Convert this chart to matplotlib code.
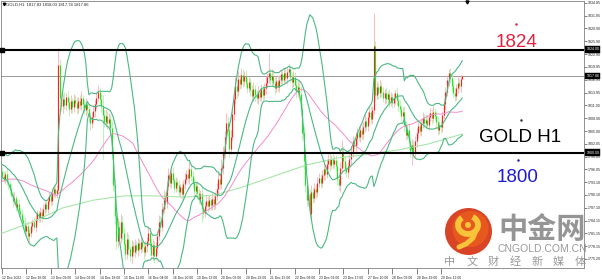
import numpy as np
import matplotlib
matplotlib.use("Agg")
import matplotlib.pyplot as plt
import matplotlib.transforms as mtransforms
from matplotlib.patches import Circle, Arc

W, H = 602, 280

# ---------------- data ----------------
prior_close = [
    1786.2, 1787.5, 1785.9, 1788.1, 1789.4, 1787.8, 1788.9, 1790.3, 1789.1, 1788.4,
    1789.7, 1791.0, 1790.2, 1789.5, 1788.8, 1790.6, 1791.8, 1790.9, 1789.7, 1790.5,
    1791.2, 1790.4, 1791.9, 1792.7, 1791.6, 1793.0, 1792.2, 1794.1, 1793.3, 1792.5,
    1795.8, 1799.6, 1797.4, 1801.2, 1798.9, 1796.8, 1798.3, 1797.1, 1795.6, 1796.9,
    1798.0, 1797.2, 1796.5, 1797.8, 1796.7, 1797.5, 1796.1, 1797.0, 1796.3, 1795.8]
first_open = 1795.8

close = [
    1794.5, 1793.8, 1795.0, 1793.2, 1792.6, 1791.4,
    1790.2, 1788.7, 1789.5, 1787.4, 1788.1, 1786.3, 1785.6,
    1784.2, 1783.5, 1781.8, 1782.9, 1780.6, 1781.3,
    1782.8, 1783.9, 1782.7, 1784.6, 1785.9, 1784.8, 1786.2, 1785.1, 1786.8, 1787.9,
    1786.9, 1788.6, 1789.8, 1788.7, 1790.5, 1791.6, 1790.4, 1791.3,
    1820.5, 1812.6,
    1810.8, 1812.4, 1811.1, 1813.0, 1811.7, 1810.2, 1811.9, 1810.6, 1812.3, 1811.5,
    1810.4, 1812.1, 1811.0, 1812.6, 1811.2, 1809.9, 1811.4, 1810.1, 1808.4, 1806.9,
    1808.2, 1809.6, 1811.3, 1812.8, 1814.0, 1812.5, 1810.9, 1808.7,
    1807.2, 1808.6, 1806.9, 1807.8, 1805.6,
    1800.2, 1792.5, 1785.1, 1779.4, 1782.6,
    1780.1, 1783.9, 1781.2, 1778.6, 1776.3, 1779.8, 1777.4, 1775.8, 1778.2, 1776.9,
    1778.5, 1777.3, 1778.9, 1777.6, 1779.2, 1778.0, 1776.8, 1778.1, 1779.4,
    1781.3, 1779.0, 1776.2, 1778.4, 1775.9, 1777.8,
    1780.6, 1783.9, 1782.7, 1786.8, 1789.5, 1788.2, 1792.1, 1794.8, 1793.0,
    1795.2, 1793.6, 1791.8, 1793.1, 1792.4, 1790.7, 1791.9, 1790.3, 1792.6, 1793.8,
    1795.1, 1794.0, 1796.2, 1794.5, 1792.8, 1791.1, 1792.3, 1790.6, 1789.2, 1790.4,
    1787.1, 1785.9, 1787.6, 1788.8, 1787.5, 1788.9, 1787.7, 1789.1, 1788.0,
    1789.8, 1791.5, 1793.9, 1792.6, 1796.4, 1799.8, 1803.5, 1806.9, 1805.2, 1800.8,
    1803.6, 1808.9, 1812.4, 1815.6, 1814.3, 1817.2, 1816.0, 1818.1, 1816.7, 1817.9, 1816.3,
    1815.1, 1816.4, 1814.6, 1813.2, 1814.9, 1813.5, 1812.6, 1814.1, 1813.0, 1814.7,
    1813.4, 1815.0, 1816.3, 1817.5, 1818.6, 1816.8, 1817.9, 1816.2, 1815.1, 1816.6,
    1815.3, 1816.9, 1818.2, 1817.0, 1818.5, 1817.3, 1818.8, 1819.4, 1817.6, 1816.4,
    1817.5, 1815.8, 1814.2, 1815.3, 1813.6,
    1810.2, 1804.5, 1798.1, 1792.4, 1789.0, 1790.3, 1785.6, 1790.8,
    1789.4, 1791.6, 1790.8, 1792.9, 1794.1, 1793.0, 1794.8, 1796.2, 1795.0, 1797.3,
    1798.5, 1797.1, 1798.6, 1797.4, 1798.2, 1796.9, 1793.8, 1792.4, 1796.3, 1800.1,
    1798.0, 1796.2, 1795.4, 1796.8,
    1798.5, 1800.2, 1802.6, 1801.5, 1803.4, 1804.8, 1803.6, 1805.3, 1804.2, 1806.0,
    1807.4, 1806.1, 1808.2, 1809.5, 1807.9, 1809.8,
    1824.8, 1813.5,
    1815.2, 1813.8, 1815.6, 1814.1, 1812.7, 1813.9, 1812.4, 1813.6, 1811.8, 1812.9,
    1811.5, 1812.7, 1813.8, 1812.2, 1810.9,
    1810.2, 1808.6, 1809.4, 1806.3, 1804.1, 1805.2, 1802.4, 1800.3, 1801.8, 1799.9, 1802.6,
    1804.5, 1806.2, 1805.0, 1806.8, 1808.1, 1806.9, 1807.6, 1806.4, 1808.3, 1809.2,
    1808.0, 1809.5, 1808.6, 1807.1, 1805.3, 1806.4, 1805.9, 1808.7, 1811.4,
    1814.2, 1816.8, 1818.6, 1817.4, 1815.6, 1813.9, 1813.2, 1815.0, 1816.3, 1815.4,
    1817.2, 1817.86]

upper_wick = [
    0.8,1.2,0.6,1.4,0.9,0.7,1.1,0.8,1.3,0.6,0.9,1.0,0.7,1.2,0.8,1.5,0.6,1.1,0.9,1.3,
    0.7,1.0,1.4,0.8,0.6,1.2,0.9,1.1,0.7,1.3,0.8,1.0,0.6,1.2,0.9,0.7,1.1,3.8,1.3,1.6,
    1.2,1.8,0.9,1.4,1.1,1.6,0.8,1.3,1.0,1.5,0.9,1.2,1.7,0.8,1.1,1.4,0.9,1.3,1.0,1.2,
    1.5,0.9,1.3,1.8,1.1,1.4,2.5,1.2,1.6,1.0,1.3,1.1,1.8,1.4,1.6,1.9,2.1,1.5,1.8,1.2,
    1.4,1.0,1.6,1.2,0.9,1.5,1.1,1.3,0.8,1.2,1.0,1.4,0.9,1.1,1.3,0.8,1.5,1.2,0.9,1.4,
    1.0,1.3,1.1,1.6,1.2,1.5,1.8,1.3,1.4,1.7,1.2,1.0,1.4,0.8,1.1,0.9,1.3,0.7,1.2,1.0,
    1.4,0.9,1.2,1.5,0.8,1.1,1.3,0.9,1.0,1.2,0.8,1.5,1.1,0.9,1.3,1.0,1.2,0.8,1.4,1.1,
    1.0,1.3,1.6,1.2,2.1,1.8,1.5,2.2,1.4,1.9,1.6,1.7,1.3,2.0,1.5,1.8,1.2,1.6,1.3,1.1,
    1.4,1.0,1.3,0.9,1.2,1.5,0.8,1.1,1.4,0.9,1.2,1.0,1.3,1.6,1.1,4.6,1.2,1.5,1.0,1.3,
    0.9,1.4,1.1,1.3,0.8,1.2,1.5,1.0,1.3,1.1,0.9,1.4,1.2,1.0,1.3,1.5,1.8,1.4,1.6,1.9,
    1.5,1.7,1.3,1.6,1.2,1.4,1.0,1.3,1.1,0.9,1.2,1.4,1.0,1.3,1.1,1.5,0.9,1.2,1.0,1.3,
    1.1,1.4,1.6,2.9,1.3,1.0,1.2,0.9,1.1,1.4,1.2,1.0,1.3,0.9,1.2,1.1,1.4,1.0,1.3,0.9,
    1.2,1.0,1.4,1.1,7.8,1.2,1.5,1.1,1.3,0.9,1.2,1.0,1.4,0.8,1.1,1.3,0.9,1.2,1.0,1.4,
    1.1,1.3,0.9,1.2,1.5,1.0,1.3,1.6,1.2,1.4,1.0,1.3,1.1,0.9,1.2,1.0,1.4,0.8,1.1,1.3,
    0.9,1.2,1.0,1.4,0.8,1.1,1.3,0.9,1.2,1.0,1.4,1.1,1.3,0.9,1.2,1.0,1.4,1.1,0.9,1.2,
    1.0,0.8,0.2]

lower_wick = [
    0.9,0.7,1.1,0.8,1.2,0.9,0.6,1.3,0.8,1.0,0.7,1.4,0.9,1.1,0.8,1.2,0.7,1.0,1.5,0.9,
    1.1,0.8,1.2,0.7,1.0,0.9,1.3,0.6,1.1,0.8,1.0,0.7,1.2,0.9,0.8,1.1,0.9,0.5,1.4,1.2,
    1.5,1.0,1.3,1.1,1.6,0.9,1.4,1.2,1.0,1.5,1.3,0.9,1.2,1.6,1.0,1.4,1.1,1.3,1.7,1.2,
    1.0,1.4,1.1,0.9,1.3,1.5,10.2,1.2,1.0,1.4,1.1,1.6,1.8,1.5,1.7,1.9,1.4,1.6,1.3,1.5,
    1.2,1.4,1.0,1.3,1.1,1.5,0.9,1.2,1.0,1.4,0.8,1.1,1.3,1.6,1.0,1.2,0.9,1.4,1.1,1.3,
    1.6,1.0,1.2,0.9,1.3,1.1,1.0,1.4,1.2,0.8,1.1,1.3,0.9,1.2,1.0,1.4,0.8,1.1,1.3,0.9,
    1.2,1.0,0.8,1.3,1.1,0.9,1.2,1.4,1.0,1.3,1.1,3.3,1.2,0.9,1.1,1.3,0.8,1.2,1.0,1.4,
    1.1,0.9,1.3,1.0,1.2,1.4,1.1,1.5,1.3,1.8,1.2,1.0,1.4,1.1,1.6,1.2,1.3,1.0,1.4,1.2,
    1.0,1.3,1.1,1.4,0.9,1.2,1.5,1.0,1.3,1.1,0.9,1.2,1.0,1.4,1.1,1.3,0.8,1.2,1.0,1.4,
    1.1,0.9,1.3,1.0,1.2,0.8,1.1,1.3,1.0,1.2,1.4,1.1,1.3,1.6,1.2,1.5,1.8,1.6,1.9,1.7,
    1.5,1.4,1.0,1.3,1.2,1.0,1.4,1.1,0.9,1.3,1.0,1.2,1.4,0.9,1.1,1.3,1.0,1.2,0.9,1.1,
    1.3,1.2,1.5,1.0,1.3,1.2,1.0,1.4,0.9,1.1,1.3,1.0,1.2,1.4,0.9,1.1,1.3,1.0,1.2,0.8,
    1.1,1.3,1.0,1.2,0.9,1.4,1.1,1.3,1.0,1.2,0.9,1.4,1.1,1.0,1.3,0.9,1.2,1.0,1.4,1.1,
    1.2,1.0,1.3,1.1,1.4,1.2,1.0,1.5,1.3,3.3,1.2,1.0,1.3,1.1,0.9,1.2,1.0,1.3,1.1,0.9,
    1.2,1.0,1.3,0.9,1.1,1.4,1.2,1.0,1.3,1.1,0.9,1.2,1.0,1.4,1.1,1.3,0.9,1.2,1.0,1.1,
    0.9,1.2,0.1]

slow_ma_bar = [0, 20, 40, 60, 80, 100, 120, 140, 160, 180, 200, 220, 240, 260, 280, 302]
slow_ma_val = [1781.2, 1783.8, 1787.1, 1788.9, 1789.9, 1789.9, 1789.6, 1790.1, 1792.2,
               1794.7, 1797.1, 1798.7, 1799.6, 1800.6, 1802.0, 1804.3]

time_labels = ["12 Dec 2022", "12 Dec 16:00", "13 Dec 09:00", "14 Dec 02:00", "14 Dec 18:00",
               "15 Dec 11:00", "16 Dec 04:00", "16 Dec 20:00", "19 Dec 13:00", "20 Dec 06:00",
               "20 Dec 22:00", "21 Dec 15:00", "22 Dec 08:00", "23 Dec 01:00", "23 Dec 17:00",
               "27 Dec 10:00", "28 Dec 03:00", "28 Dec 19:00", "29 Dec 12:00"]
label_step = 16

price_ticks = [1775.20, 1778.15, 1781.15, 1784.15, 1787.10, 1790.10, 1793.10, 1796.05,
               1799.05, 1802.05, 1805.00, 1808.00, 1811.00, 1813.95, 1816.95, 1819.95,
               1822.90, 1825.90, 1828.90, 1831.85, 1834.85]

level_high = 1824.0
level_low = 1800.0
last_price = 1817.86
header_text = "GOLD,H1  1817.83 1818.03 1817.74 1817.86"

# ---------------- derived series ----------------
n = len(close)
o = np.array([first_open] + close[:-1])
c = np.array(close)
hi = np.maximum(o, c) + np.array(upper_wick[:n])
lo = np.minimum(o, c) - np.array(lower_wick[:n])
x = np.arange(n)

allc = np.array(prior_close + close)
P = len(prior_close)

def sma(k):
    return np.array([allc[P + i - k + 1:P + i + 1].mean() for i in range(n)])

def sdev(k):
    return np.array([allc[P + i - k + 1:P + i + 1].std() for i in range(n)])

bb_mid = sma(20)
bb_dev = sdev(20)
bb_up = bb_mid + 2 * bb_dev
bb_dn = bb_mid - 2 * bb_dev
ma_mid = sma(50)

# ---------------- figure ----------------
fig = plt.figure(figsize=(W / 100, H / 100), dpi=100)
fig.patch.set_facecolor("white")

L, R, T, B = 1, 584, 1, 268
ax = fig.add_axes([L / W, 1 - B / H, (R - L) / W, (B - T) / H])
px_per_bar = 1.524
x0px = 2.0
ax.set_xlim((L - x0px) / px_per_bar, (R - x0px) / px_per_bar)
px_hi, px_lo = 49.5, 152.5
ppu = (px_lo - px_hi) / (level_high - level_low)
ax.set_ylim(level_high - (B - px_hi) / ppu, level_high + (px_hi - T) / ppu)
ax.set_facecolor("white")

# candles
bull = c >= o
b_lo = np.minimum(o, c)
b_hi = np.maximum(o, c)
b_hi = np.where(b_hi - b_lo < 0.25, b_lo + 0.25, b_hi)
wick_col = ["#ffa6b0" if b else "#aaf0a2" for b in bull]
body_col = ["#ff1f1f" if b else "#1ee61e" for b in bull]
ax.vlines(x, lo, hi, colors=wick_col, lw=0.55, zorder=2)
ax.vlines(x, b_lo, b_hi, colors=body_col, lw=0.85, zorder=3)

# indicators
ax.plot(slow_ma_bar, slow_ma_val, color="#a8e6a8", lw=0.8, zorder=4)
ax.plot(x, ma_mid, color="#f58ccb", lw=0.7, zorder=4)
for s in (bb_up, bb_mid, bb_dn):
    ax.plot(x, s, color="#4cb985", lw=0.8, zorder=5)

# levels
ax.axhline(last_price, color="#9a9a9a", lw=0.7, zorder=1)
ax.axhline(level_high, color="black", lw=1.5, zorder=6)
ax.axhline(level_low, color="black", lw=1.5, zorder=6)
xl = ax.get_xlim()[0]
ax.plot([xl + 0.8, xl + 0.8], [level_high, level_low], ls="none", marker="s", ms=2.2,
        color="black", zorder=7, clip_on=False)

# axes styling
for sp in ax.spines.values():
    sp.set_color("#808080")
    sp.set_linewidth(0.6)
ax.yaxis.tick_right()
ax.set_yticks(price_ticks)
ax.set_yticklabels([f"{v:.2f}" for v in price_ticks], fontsize=2.6, family="Liberation Sans")
ax.tick_params(axis="y", length=2, width=0.4, pad=1, colors="#222222")
ax.set_xticks(list(range(0, label_step * len(time_labels), label_step)))
ax.set_xticklabels(time_labels, fontsize=2.4, ha="left", family="Liberation Sans")
ax.tick_params(axis="x", length=4, width=0.4, pad=1.5, colors="#222222")

trans = mtransforms.blended_transform_factory(ax.transAxes, ax.transData)
for v in (level_high, last_price, level_low):
    ax.text(1.004, v, f"{v:.2f}", transform=trans, fontsize=2.6, color="white",
            ha="left", va="center", family="Liberation Sans", clip_on=False, zorder=10,
            bbox=dict(boxstyle="square,pad=0.3", fc="black", ec="black", lw=0.3))

# ---------------- overlay (pixel coordinates) ----------------
ov = fig.add_axes([0, 0, 1, 1], zorder=10)
ov.set_xlim(0, W)
ov.set_ylim(H, 0)
ov.axis("off")
ov.patch.set_alpha(0)

ov.plot(3.5, 4, marker="v", ms=1.8, color="black")
ov.text(6.5, 4.3, header_text, fontsize=3, va="center", ha="left", family="Liberation Sans",
        color="#222222")
ov.plot(467, 2, marker="v", ms=2.2, color="black")

ov.text(516.5, 47, "1824", fontsize=13.5, color="#e3223f", ha="center", va="baseline",
        family="Liberation Sans")
ov.text(520.5, 142, "GOLD H1", fontsize=13.5, color="black", ha="center", va="baseline",
        family="Liberation Sans")
ov.text(517.5, 182, "1800", fontsize=13.5, color="#1c1cd0", ha="center", va="baseline",
        family="Liberation Sans")
ov.plot(516, 24, marker="o", ms=0.8, color="#e3223f")
ov.plot(521, 120, marker="o", ms=0.8, color="#333333")
ov.plot(518, 160, marker="o", ms=0.8, color="#1c1cd0")

# watermark logo
ov.add_patch(Circle((468.5, 231.5), 23.5, fc="#d83a1a", ec="none", alpha=0.95))
ov.add_patch(Circle((470.5, 229.0), 18.0, fc="#e85a1e", ec="none", alpha=0.95))
ov.add_patch(Arc((468, 225), 20, 18, theta1=-60, theta2=230, lw=4.2, color="#f9c43a"))
ov.add_patch(Circle((468, 225), 3.0, fc="#f9c43a", ec="none"))
ov.plot([476.5, 473, 466, 459], [229, 238, 244, 247], color="#f9c43a", lw=3.6,
        solid_capstyle="round")

ov.text(542, 238, "中金网", fontsize=21, fontweight="bold", color="#8a8a8a", alpha=0.9,
        ha="center", va="baseline", family=["Noto Sans CJK SC", "DejaVu Sans"])
ov.text(542, 252.5, "CNGOLD.COM.CN", fontsize=7.5, color="#8f8f8f", alpha=0.9,
        ha="center", va="baseline", family="Liberation Sans")
for i, ch in enumerate("中文财经新媒体"):
    ov.text(450 + i * 21.7, 262, ch, fontsize=8, color="#8f8f8f", alpha=0.9,
            ha="center", va="center", family=["Noto Sans CJK SC", "DejaVu Sans"])

fig.savefig("out.png", dpi=100, facecolor="white")
